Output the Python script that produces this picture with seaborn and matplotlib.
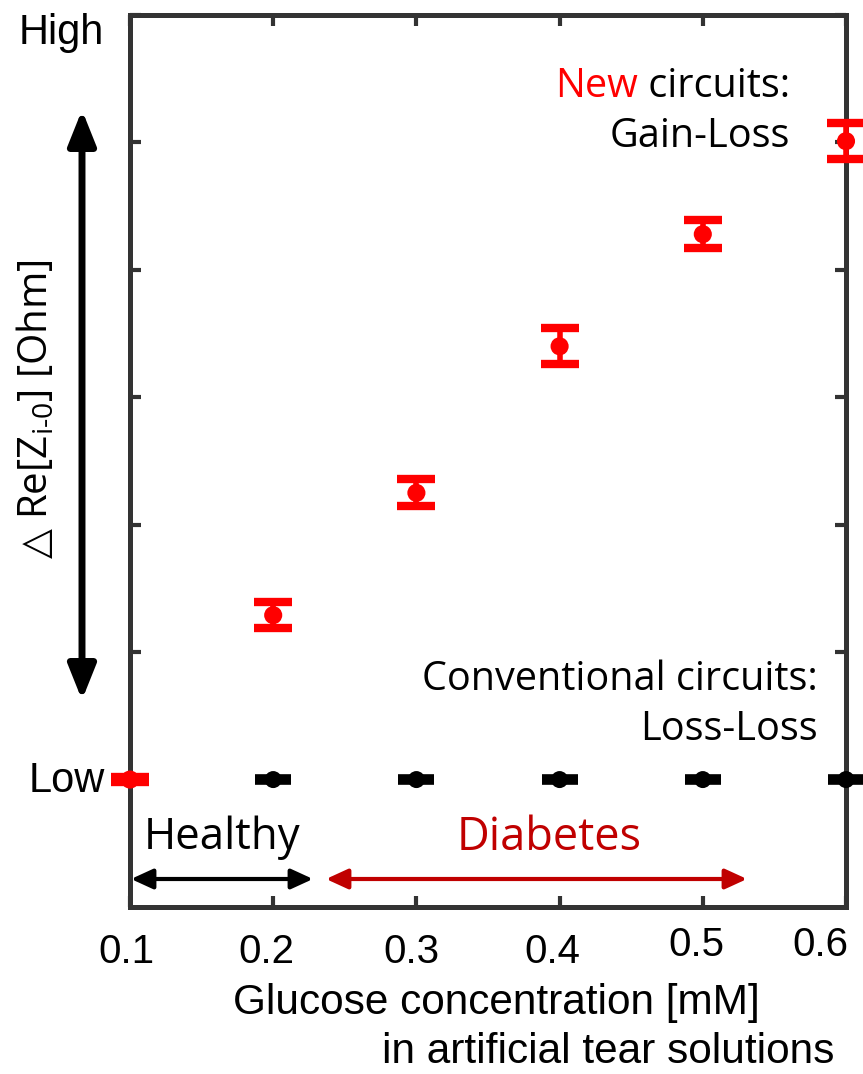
import matplotlib
matplotlib.use("Agg")
import matplotlib.pyplot as plt
import matplotlib.transforms as mtransforms
from matplotlib.patches import FancyArrowPatch
import seaborn as sns
import pandas as pd

# ---- data ----
concentration = [0.1, 0.2, 0.3, 0.4, 0.5, 0.6]
new_values = [0.0, 1.29, 2.25, 3.40, 4.28, 5.01]
new_errors = [0.02, 0.10, 0.105, 0.14, 0.11, 0.14]
conv_values = [0.0, 0.0, 0.0, 0.0, 0.0, 0.0]
conv_errors = [0.01, 0.01, 0.01, 0.01, 0.01, 0.01]
x_tick_labels = ["0.1", "0.2", "0.3", "0.4", "0.5", "0.6"]
y_ticks = [0, 1, 2, 3, 4, 5, 6]

sns.set_theme(style="white")
plt.rcParams["font.family"] = ["Liberation Sans", "DejaVu Sans"]
plt.rcParams["text.color"] = "black"
plt.rcParams["xtick.labelcolor"] = "black"
plt.rcParams["ytick.labelcolor"] = "black"

SEGOE = ["Open Sans", "DejaVu Sans"]
ARIAL = ["Liberation Sans", "DejaVu Sans"]
DARKRED = "#C00000"
RED = "#FF0000"

fig = plt.figure(figsize=(8.63, 10.74), dpi=100)
ax = fig.add_axes([130 / 863, 1 - 907 / 1074, 716 / 863, 892 / 1074])

df_new = pd.DataFrame({"x": concentration, "y": new_values, "err": new_errors})
df_conv = pd.DataFrame({"x": concentration, "y": conv_values, "err": conv_errors})

# conventional (black) first, new (red) on top
ax.errorbar(df_conv["x"], df_conv["y"], yerr=df_conv["err"], fmt="none",
            ecolor="black", elinewidth=3, capsize=13, capthick=5.5,
            clip_on=False, zorder=3)
sns.scatterplot(data=df_conv, x="x", y="y", ax=ax, color="black", s=150,
                edgecolor="none", clip_on=False, zorder=4, legend=False)

ax.errorbar(df_new["x"], df_new["y"], yerr=df_new["err"], fmt="none",
            ecolor=RED, elinewidth=4, capsize=13.5, capthick=6,
            clip_on=False, zorder=5)
sns.scatterplot(data=df_new, x="x", y="y", ax=ax, color=RED, s=170,
                edgecolor="none", clip_on=False, zorder=6, legend=False)

ax.set_xlim(0.1, 0.6)
ax.set_ylim(-1, 6)
ax.set_xticks(concentration)
ax.set_xticklabels(x_tick_labels, fontsize=29, family=ARIAL, color="black")
ax.set_yticks(y_ticks)
ax.set_yticklabels([""] * len(y_ticks))
ax.set_xlabel("")
ax.set_ylabel("")
ax.tick_params(axis="both", which="both", direction="in", length=8, width=3,
               color="#333333", top=True, right=True, bottom=True, left=True)
ax.tick_params(axis="x", pad=19)
for sp in ax.spines.values():
    sp.set_linewidth(3.6)
    sp.set_color("#333333")

# small label offsets as in reference (pixels: dx, dy)
offsets = [(-4, 0), (-7, 0), (-5, 0), (-7, 0), (-6, 7), (-26, 7)]
for lbl, (dx, dy) in zip(ax.get_xticklabels(), offsets):
    lbl.set_transform(lbl.get_transform() +
                      mtransforms.ScaledTranslation(dx / 100, dy / 100, fig.dpi_scale_trans))


def fx(px):
    return px / 863


def fy(py):
    return 1 - py / 1074


# High / Low labels
fig.text(fx(104), fy(33), "High", ha="right", va="center", fontsize=30, family=ARIAL)
fig.text(fx(105), fy(781), "Low", ha="right", va="center", fontsize=30, family=ARIAL)

# y-axis label
fig.text(fx(37), fy(389), "Re[Z$_{\\mathregular{i\u20100}}$] [Ohm]",
         rotation=90, ha="center", va="center", fontsize=29, family=SEGOE)
fig.text(fx(37), fy(543), "\u25B3", rotation=90, ha="center", va="center",
         fontsize=28, family=["DejaVu Sans"])

# big vertical double arrow
fig.patches.append(FancyArrowPatch(
    (fx(82), fy(700)), (fx(82), fy(110)), transform=fig.transFigure,
    arrowstyle="<|-|>,head_length=1.5,head_width=0.6", mutation_scale=14,
    color="black", linewidth=5, shrinkA=0, shrinkB=0))

# x labels
fig.text(fx(496), fy(1003), "Glucose concentration [mM]", ha="center", va="center",
         fontsize=30.5, family=ARIAL)
fig.text(fx(608), fy(1052), "in artificial tear solutions", ha="center", va="center",
         fontsize=30.5, family=ARIAL)

# annotations: New circuits
t_circ = fig.text(fx(790), fy(87), " circuits:", ha="right", va="center",
                  fontsize=28.5, family=SEGOE, color="black")
fig.canvas.draw()
bb = t_circ.get_window_extent()
fig.text(bb.x0 / fig.bbox.width, fy(87), "New", ha="right", va="center",
         fontsize=28.5, family=SEGOE, color=RED)
fig.text(fx(790), fy(137), "Gain-Loss", ha="right", va="center",
         fontsize=28.5, family=SEGOE)

fig.text(fx(818), fy(680), "Conventional circuits:", ha="right", va="center",
         fontsize=28.5, family=SEGOE)
fig.text(fx(818), fy(730), "Loss-Loss", ha="right", va="center",
         fontsize=28.5, family=SEGOE)

# Healthy / Diabetes
fig.text(fx(222), fy(838), "Healthy", ha="center", va="center", fontsize=31.5, family=SEGOE)
fig.text(fx(549), fy(838), "Diabetes", ha="center", va="center", fontsize=32.5,
         family=SEGOE, color=DARKRED)

fig.patches.append(FancyArrowPatch(
    (fx(131), fy(879)), (fx(313), fy(879)), transform=fig.transFigure,
    arrowstyle="<|-|>,head_length=1.2,head_width=0.55", mutation_scale=11,
    color="black", linewidth=3, shrinkA=0, shrinkB=0))
fig.patches.append(FancyArrowPatch(
    (fx(326), fy(879)), (fx(747), fy(879)), transform=fig.transFigure,
    arrowstyle="<|-|>,head_length=1.2,head_width=0.55", mutation_scale=11,
    color=DARKRED, linewidth=3, shrinkA=0, shrinkB=0))

fig.savefig("out.png", dpi=100)
